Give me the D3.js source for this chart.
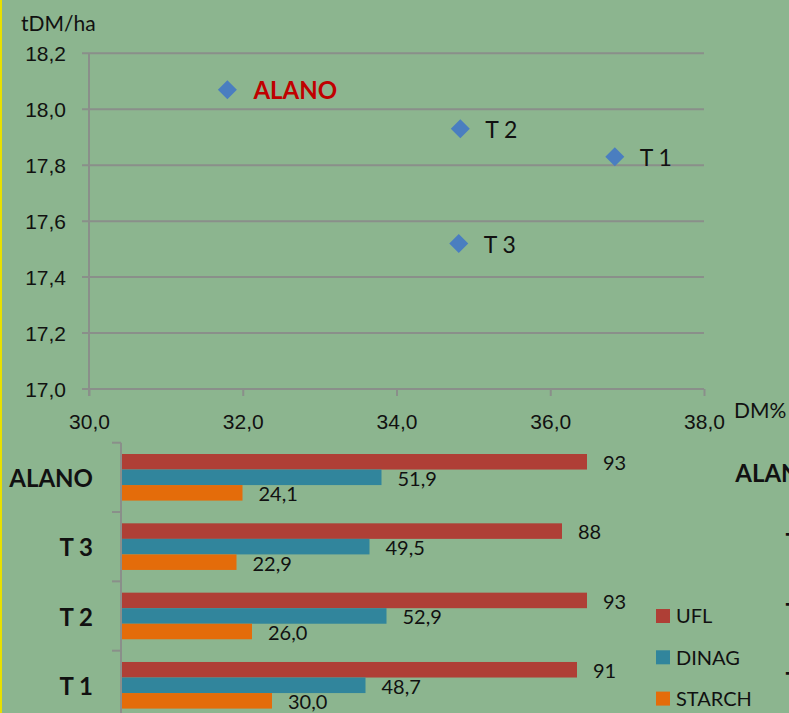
<!DOCTYPE html>
<html>
<head>
<meta charset="utf-8">
<style>
  body { margin: 0; background: #8cb58f; overflow: hidden; }
  svg { display: block; font-family: Lato, "Open Sans", sans-serif; }
</style>
</head>
<body>
<svg width="789" height="713"></svg>
<script src="https://cdn.jsdelivr.net/npm/d3@7"></script>
<script>
// scatter: dry matter % vs yield
var scatterNames = ["ALANO", "T 1", "T 2", "T 3"];
var dmPct = [31.8, 36.84, 34.83, 34.81];
var yieldT = [18.07, 17.83, 17.93, 17.52];
var xTicks = [30, 32, 34, 36, 38];
var yTicks = [17.0, 17.2, 17.4, 17.6, 17.8, 18.0, 18.2];

// bars: quality per variety
var categories = ["ALANO", "T 3", "T 2", "T 1"];
var series = ["UFL", "DINAG", "STARCH"];
var ufl = [93, 88, 93, 91];
var dinag = [51.9, 49.5, 52.9, 48.7];
var starch = [24.1, 22.9, 26.0, 30.0];
var seriesColor = ["#af3f36", "#31859c", "#e46c0a"];

var svg = d3.select("svg");
var grid = "#8a8f8a";
var ink = "#111";
var comma = function(f) { return function(v) { return d3.format(f)(v).replace(".", ","); }; };

// left yellow border
svg.append("rect").attr("x", 0).attr("y", 0).attr("width", 2).attr("height", 713).attr("fill", "#e8e000");

// ---------- scatter ----------
var x = d3.scaleLinear().domain([30, 38]).range([89, 704]);
var y = d3.scaleLinear().domain([17.0, 18.2]).range([389, 53.3]);

var sg = svg.append("g");
sg.selectAll("line.grid")
  .data(yTicks)
  .enter().append("line")
    .attr("class", "grid")
    .attr("x1", x(30) - 7).attr("x2", x(38))
    .attr("y1", function(d) { return y(d); }).attr("y2", function(d) { return y(d); })
    .attr("stroke", grid).attr("stroke-width", 2);

sg.append("line")
  .attr("x1", x(30)).attr("x2", x(30))
  .attr("y1", y(18.2)).attr("y2", y(17.0) + 7)
  .attr("stroke", grid).attr("stroke-width", 2);

var yAxis = sg.append("g")
  .attr("transform", "translate(66,0)")
  .call(d3.axisLeft(y).tickValues(yTicks).tickSize(0).tickPadding(0).tickFormat(comma(".1f")));
yAxis.select(".domain").remove();
yAxis.selectAll("text").attr("font-size", 21).attr("fill", ink).attr("font-family", null).attr("dy", "0.36em");

var xAxis = sg.append("g")
  .attr("transform", "translate(0," + y(17.0) + ")")
  .call(d3.axisBottom(x).tickValues(xTicks).tickSize(7).tickSizeOuter(0).tickPadding(18).tickFormat(comma(".1f")));
xAxis.select(".domain").remove();
xAxis.selectAll("line").attr("stroke", grid).attr("stroke-width", 2);
xAxis.selectAll("text").attr("font-size", 21).attr("fill", ink).attr("font-family", null);

sg.append("text").attr("x", 21).attr("y", 31).attr("font-size", 21).attr("fill", ink).text("tDM/ha");
sg.append("text").attr("x", 734).attr("y", 418).attr("font-size", 21).attr("fill", ink).text("DM%");

var pts = scatterNames.map(function(n, i) { return { name: n, dm: dmPct[i], t: yieldT[i] }; });
var r = 9.5;
sg.selectAll("path.pt")
  .data(pts)
  .enter().append("path")
    .attr("class", "pt")
    .attr("d", function(d) {
      var cx = x(d.dm), cy = y(d.t);
      return "M" + cx + "," + (cy - r) + "L" + (cx + r) + "," + cy + "L" + cx + "," + (cy + r) + "L" + (cx - r) + "," + cy + "Z";
    })
    .attr("fill", "#4a7ec0");

sg.selectAll("text.pl")
  .data(pts)
  .enter().append("text")
    .attr("class", "pl")
    .attr("x", function(d) { return x(d.dm) + (d.name == "ALANO" ? 26 : 25); })
    .attr("y", function(d) { return y(d.t) + 9; })
    .attr("font-size", function(d) { return d.name == "ALANO" ? 24 : 23; })
    .attr("font-weight", function(d) { return d.name == "ALANO" ? "bold" : "normal"; })
    .attr("fill", function(d) { return d.name == "ALANO" ? "#c00000" : ink; })
    .text(function(d) { return d.name; });

// ---------- bars ----------
var bx = d3.scaleLinear().domain([0, 100]).range([122, 622]);
var by = d3.scaleBand().domain(categories).range([442.7, 442.7 + 4 * 69.33]);
var sub = d3.scaleBand().domain(series).range([11.3, 11.3 + 46.6]);

var rows = categories.map(function(c, i) {
  return { cat: c, vals: [ufl[i], dinag[i], starch[i]] };
});

var bg = svg.append("g");
var grp = bg.selectAll("g.cat")
  .data(rows)
  .enter().append("g")
    .attr("class", "cat")
    .attr("transform", function(d) { return "translate(0," + by(d.cat) + ")"; });

grp.selectAll("rect")
  .data(function(d) { return d.vals.map(function(v, j) { return { s: series[j], v: v, j: j }; }); })
  .enter().append("rect")
    .attr("x", bx(0))
    .attr("y", function(d) { return sub(d.s); })
    .attr("width", function(d) { return bx(d.v) - bx(0); })
    .attr("height", sub.bandwidth())
    .attr("fill", function(d) { return seriesColor[d.j]; });

grp.selectAll("text")
  .data(function(d) { return d.vals.map(function(v, j) { return { s: series[j], v: v, j: j }; }); })
  .enter().append("text")
    .attr("x", function(d) { return bx(d.v) + 16; })
    .attr("y", function(d) { return sub(d.s) + sub.bandwidth() / 2; })
    .attr("dy", "0.42em")
    .attr("font-size", 20)
    .attr("fill", ink)
    .text(function(d) { return d.j == 0 ? d3.format(".0f")(d.v) : comma(".1f")(d.v); });

// category axis with ticks between groups
bg.append("line")
  .attr("x1", 121).attr("x2", 121)
  .attr("y1", by.range()[0]).attr("y2", 713)
  .attr("stroke", grid).attr("stroke-width", 2);
bg.selectAll("line.ct")
  .data(categories)
  .enter().append("line")
    .attr("class", "ct")
    .attr("x1", 112).attr("x2", 121)
    .attr("y1", function(d) { return by(d); }).attr("y2", function(d) { return by(d); })
    .attr("stroke", grid).attr("stroke-width", 2);

bg.selectAll("text.cl")
  .data(categories)
  .enter().append("text")
    .attr("class", "cl")
    .attr("x", 93)
    .attr("y", function(d) { return by(d) + by.bandwidth() / 2 + 1; })
    .attr("dy", "0.36em")
    .attr("text-anchor", "end")
    .attr("font-size", 24)
    .attr("font-weight", "bold")
    .attr("fill", ink)
    .text(function(d) { return d; });

// legend
var lg = bg.selectAll("g.lg")
  .data(series)
  .enter().append("g")
    .attr("class", "lg")
    .attr("transform", function(d, i) { return "translate(656," + (609 + i * 41.3) + ")"; });
lg.append("rect").attr("width", 14).attr("height", 14)
  .attr("fill", function(d, i) { return seriesColor[i]; });
lg.append("text").attr("x", 20).attr("y", 7).attr("dy", "0.36em")
  .attr("font-size", 20).attr("fill", ink)
  .text(function(d) { return d; });

// neighbouring chart, cut by the right edge
svg.append("g").selectAll("text")
  .data(categories)
  .enter().append("text")
    .attr("x", 819)
    .attr("y", function(d) { return by(d) + by.bandwidth() / 2 - 4; })
    .attr("dy", "0.36em")
    .attr("text-anchor", "end")
    .attr("font-size", 24)
    .attr("font-weight", "bold")
    .attr("fill", ink)
    .text(function(d) { return d; });
</script>
</body>
</html>
